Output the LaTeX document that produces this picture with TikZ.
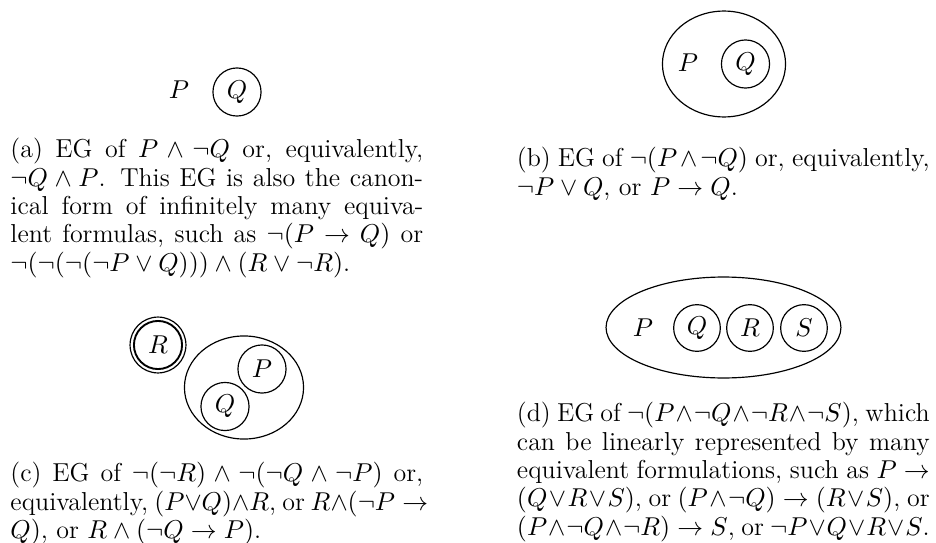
\documentclass[tikz,border=0pt]{standalone}
\usetikzlibrary{shapes.geometric}
\tikzset{
  cut/.style={circle,draw,line width=0.5pt,minimum size=20.4pt,inner sep=0pt},
  sheet/.style={ellipse,draw,line width=0.5pt,inner sep=0pt},
  caption/.style={anchor=north west,inner sep=0pt,text width=175pt,align=justify}
}
\begin{document}
\begin{tikzpicture}[x=0.424pt,y=-0.424pt,font=\fontsize{11}{12}\selectfont]
        \useasboundingbox (0,0) rectangle (936,543);
        % Draw graph (a)
        \node (pa) at (179,90) {$P$};
        \node[cut] (qa) at (237,92) {$Q$};
        \node[caption] (capa) at (10,138) {(a) EG of $P \wedge \neg Q$ or, equivalently, $\neg Q \wedge P$. This EG is also the canonical form of infinitely many equivalent formulas, such as $\neg(P \rightarrow Q)$ or $\neg(\neg(\neg(\neg P \vee Q))) \wedge (R \vee \neg R)$.};
        % Draw graph (b)
        \node[sheet,minimum width=52.2pt,minimum height=44.9pt] (outb) at (724,64) {};
        \node (pb) at (688,63) {$P$};
        \node[cut] (qb) at (745.5,64) {$Q$};
        \node[caption] (capb) at (516.5,147) {(b) EG of $\neg(P \wedge \neg Q)$ or, equivalently, $\neg P \vee Q$, or $P \rightarrow Q$.};
        % Draw graph (c)
        \node[cut,minimum size=23.7pt] (rco) at (158,345) {};
        \node[cut,line width=0.8pt] (rci) at (158,345) {$R$};
        \node[sheet,minimum width=50.5pt,minimum height=43.7pt] (outc) at (244,387.5) {};
        \node[cut] (pc) at (262,369) {$P$};
        \node[cut] (qc) at (225,406.5) {$Q$};
        \node[caption] (capc) at (10,462) {(c) EG of $\neg(\neg R) \wedge \neg(\neg Q \wedge \neg P)$ or,\linebreak
          \makebox[175pt][s]{equivalently, $(P{\vee}Q){\wedge}R$, or $R{\wedge}(\neg P \rightarrow{}$}\newline
          $Q)$, or $R \wedge (\neg Q \rightarrow P)$.};
        % Draw graph (d)
        \node[sheet,minimum width=99.6pt,minimum height=42.8pt] (outd) at (723.5,327.5) {};
        \node (pd) at (643,328) {$P$};
        \node[cut,minimum size=19.8pt] (qd) at (697,328) {$Q$};
        \node[cut,minimum size=19.8pt] (rd) at (750,328) {$R$};
        \node[cut,minimum size=19.8pt] (sd) at (804,328) {$S$};
        \node[caption] (capd) at (516.5,402) {(d) EG of $\neg(P \wedge \neg Q \wedge \neg R \wedge \neg S)$, which can be linearly represented by many equivalent formulations, such as $P \rightarrow (Q \vee R \vee S)$, or $(P \wedge \neg Q) \rightarrow (R \vee S)$, or $(P \wedge \neg Q \wedge \neg R) \rightarrow S$, or $\neg P \vee Q \vee R \vee S$.};
    \end{tikzpicture}
\end{document}
